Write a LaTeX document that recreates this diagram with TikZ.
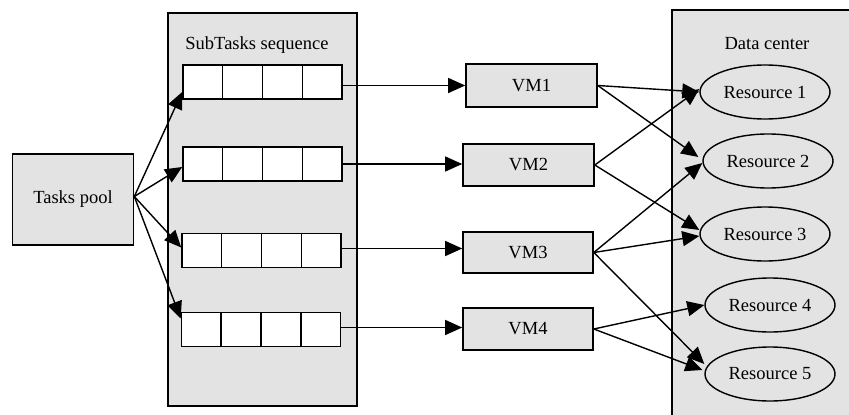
\documentclass[tikz,border=0pt]{standalone}
\usepackage{fontspec}
\setmainfont{Liberation Serif}
\usetikzlibrary{arrows.meta,shapes.geometric,calc}
\definecolor{boxgray}{RGB}{227,227,227}
\tikzset{
  lbl/.style={font=\fontsize{18.5}{22}\selectfont, inner sep=0pt},
  container/.style={draw, fill=boxgray, line width=1.6pt, inner sep=0pt},
  grayrect/.style={draw, fill=boxgray, line width=1.6pt, inner sep=0pt, font=\fontsize{18.5}{22}\selectfont},
  queuebox/.style={draw, fill=white, line width=1.6pt, minimum width=159pt, minimum height=34pt, inner sep=0pt},
  res/.style={ellipse, draw, fill=boxgray, line width=1.4pt, minimum width=130pt, minimum height=54pt, inner sep=0pt, font=\fontsize{18.5}{22}\selectfont},
  arr/.style={line width=1.4pt, -{Triangle[length=17pt,width=15pt]}}
}
\begin{document}
\begin{tikzpicture}[x=1pt,y=-1pt]
\useasboundingbox (0,0) rectangle (849,415);
\clip (0,0) rectangle (849,415);
\fill[white] (0,0) rectangle (849,415);
% containers
\node[container, minimum width=189pt, minimum height=393pt] (sub) at (262.5,209.5) {};
\node[lbl] (subtitle) at (257,45) {SubTasks sequence};
\node[container, minimum width=190pt, minimum height=420pt] (dc) at (767,220) {};
\node[lbl] (dctitle) at (767,44) {Data center};
% tasks pool
\node[grayrect, minimum width=121pt, minimum height=91pt] (pool) at (73,199.5) {Tasks pool};
% queues
\node[queuebox] (q1) at (262.5,82) {};
\node[queuebox] (q2) at (262.5,164) {};
\node[queuebox] (q3) at (261.5,250.5) {};
\node[queuebox] (q4) at (261,329.5) {};
\foreach \q in {q1,q2,q3,q4}{
  \foreach \f in {0.25,0.5,0.75}{
    \draw[line width=1.6pt] ($(\q.north west)!\f!(\q.north east)$) -- ($(\q.south west)!\f!(\q.south east)$);
  }
}
% VMs
\node[grayrect, minimum width=131pt, minimum height=43pt] (vm1) at (531.5,85.5) {VM1};
\node[grayrect, minimum width=131pt, minimum height=42pt] (vm2) at (528.5,165) {VM2};
\node[grayrect, minimum width=130pt, minimum height=41pt] (vm3) at (528,252.5) {VM3};
\node[grayrect, minimum width=130pt, minimum height=42pt] (vm4) at (528,329) {VM4};
% resources
\node[res] (r1) at (765,92) {Resource 1};
\node[res] (r2) at (768,161) {Resource 2};
\node[res] (r3) at (765,234) {Resource 3};
\node[res] (r4) at (770,305) {Resource 4};
\node[res] (r5) at (770,374) {Resource 5};
% pool -> queues
\coordinate (t1) at ($(q1.west)+(0,10)$);
\coordinate (t2) at ($(q2.west)+(0,3)$);
\coordinate (t3) at ($(q3.west)+(0,-3)$);
\coordinate (t4) at ($(q4.west)+(0,-11)$);
\coordinate (ps) at ($(pool.east)+(0,-3)$);
\foreach \t in {t1,t2,t3,t4}{ \draw[arr] (ps) -- (\t); }
% queues -> VMs
\draw[arr] (q1.east |- vm1.west) -- (vm1.west);
\draw[arr] (q2.east) -- (q2.east -| vm2.west);
\draw[arr] ($(q3.east)+(0,-2)$) -- ($(q3.east -| vm3.west)+(0,-2)$);
\draw[arr] ($(q4.east)+(0,-2)$) -- ($(q4.east -| vm4.west)+(0,-2)$);
% VMs -> resources
\draw[arr] (vm1.east) -- (r1.west);
\draw[arr] (vm1.east) -- ($(r2.west)+(-4,-4)$);
\draw[arr] (vm2.east) -- ($(r1.west)+(0,-3)$);
\draw[arr] (vm2.east) -- ($(r3.west)+(0,-4)$);
\draw[arr] (vm3.east) -- ($(r2.west)+(0,2)$);
\draw[arr] (vm3.east) -- ($(r3.west)+(0,2)$);
\draw[arr] (vm3.east) -- ($(r5.west)+(0,-10)$);
\draw[arr] (vm4.east) -- (r4.west);
\draw[arr] (vm4.east) -- ($(r5.west)+(-2,-4)$);
\end{tikzpicture}
\end{document}
